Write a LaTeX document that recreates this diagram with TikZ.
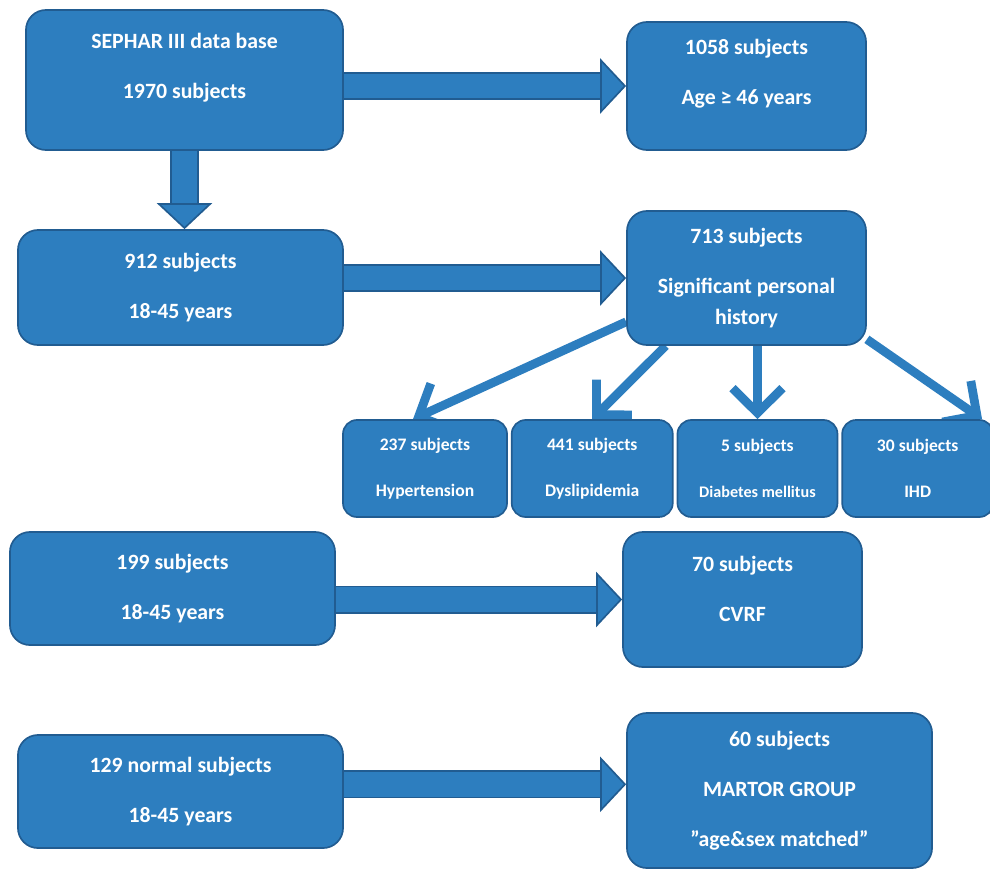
\documentclass[tikz,border=0pt]{standalone}
\usepackage{fontspec}
\setmainfont{Carlito}
\usepackage{tikz}
\usetikzlibrary{arrows.meta, positioning, backgrounds}
\definecolor{boxblue}{RGB}{45,126,191}
\definecolor{boxedge}{RGB}{33,92,145}
\tikzstyle{stage} = [rectangle, rounded corners=0.5cm, draw=boxedge, line width=1.2pt, fill=boxblue, text=white, align=center, inner sep=2pt, font=\bfseries\fontsize{15.5}{18}\selectfont]
\tikzstyle{subgroup} = [stage, rounded corners=0.35cm, minimum height=2.425cm, font=\bfseries\fontsize{12.5}{15}\selectfont]
\tikzstyle{bigarrow} = [draw=boxblue, line width=0.62cm, preaction={draw=boxedge, line width=0.7cm, arrows=-, shorten >=0.62cm}, -{Triangle[width=1.38cm 0 0, length=0.65cm 0 0, line width=1.2pt, color=boxedge, fill=boxblue]}]
\tikzstyle{branch} = [draw=boxblue, line width=0.22cm, -{Straight Barb[width=1.25cm 0 0, length=0.62cm 0 0, line width=0.22cm]}]

\begin{document}
\begin{tikzpicture}[x=0.025cm, y=-0.025cm]
\useasboundingbox (0,0) rectangle (990,881);

% Left column
\node[stage, minimum width=7.925cm, minimum height=3.5cm] (sephar) at (184.5,80) {
    SEPHAR III data base\\[0.62cm]1970 subjects\\[0.09cm]\mbox{}
};
\node[stage, minimum width=8.125cm, minimum height=2.875cm] (n912) at (180.5,287.5) {
    912 subjects\\[0.62cm]18-45 years
};
\node[stage, minimum width=8.125cm, minimum height=2.825cm] (n199) at (172.5,588.5) {
    199 subjects\\[0.62cm]18-45 years
};
\node[stage, minimum width=8.125cm, minimum height=2.825cm] (n129) at (180.5,791.5) {
    129 normal subjects\\[0.62cm]18-45 years
};

% Right column
\node[stage, minimum width=5.975cm, minimum height=3.2cm] (n1058) at (746.5,86) {
    1058 subjects\\[0.62cm]Age ≥ 46 years\\[0.09cm]\mbox{}
};
\node[stage, minimum width=5.975cm, minimum height=3.35cm] (hist) at (746.5,278) {
    713 subjects\\[0.62cm]Significant personal\\[0.12cm]history
};
\node[stage, minimum width=5.975cm, minimum height=3.375cm] (cvrf) at (742.5,599.5) {
    70 subjects\\[0.62cm]CVRF\\[-0.08cm]\mbox{}
};
\node[stage, minimum width=7.625cm, minimum height=3.875cm] (martor) at (779.5,790.5) {
    60 subjects\\[0.62cm]MARTOR GROUP\\[0.62cm]”age\&sex matched”
};

% Personal history subgroups
\node[subgroup, minimum width=4.1cm] (hyp) at (425,468.5) {237 subjects\\[0.62cm]Hypertension};
\node[subgroup, minimum width=4.025cm, right=0.075cm of hyp] (dys) {441 subjects\\[0.62cm]Dyslipidemia};
\node[subgroup, minimum width=4cm, right=0.075cm of dys] (diab) {
    5 subjects\\[0.62cm]{\fontsize{11.5}{15}\selectfont Diabetes mellitus}
};
\node[subgroup, minimum width=3.775cm, right=0.075cm of diab] (ihd) {30 subjects\\[0.62cm]IHD};

% Arrows
\begin{scope}[on background layer]
\draw[bigarrow] (sephar.east |- n1058.west) -- (n1058.west);
\draw[bigarrow] (sephar.south) -- (sephar.south |- n912.north);
\draw[bigarrow] (n912.east |- hist.west) -- (hist.west);
\draw[bigarrow] (n199.east |- cvrf.west) -- (cvrf.west);
\draw[bigarrow] ([yshift=0.18cm]n129.east) -- ([yshift=0.18cm]n129.east -| martor.west);
\draw[branch] (hist.200) -- ([xshift=-0.3cm]hyp.north);
\draw[branch] (hist.220) -- (dys.north);
\draw[branch] (hist.south -| diab.north) -- (diab.north);
\draw[branch] (hist.-27) -- ([xshift=-0.3cm]ihd.north east);
\end{scope}

\end{tikzpicture}
\end{document}
